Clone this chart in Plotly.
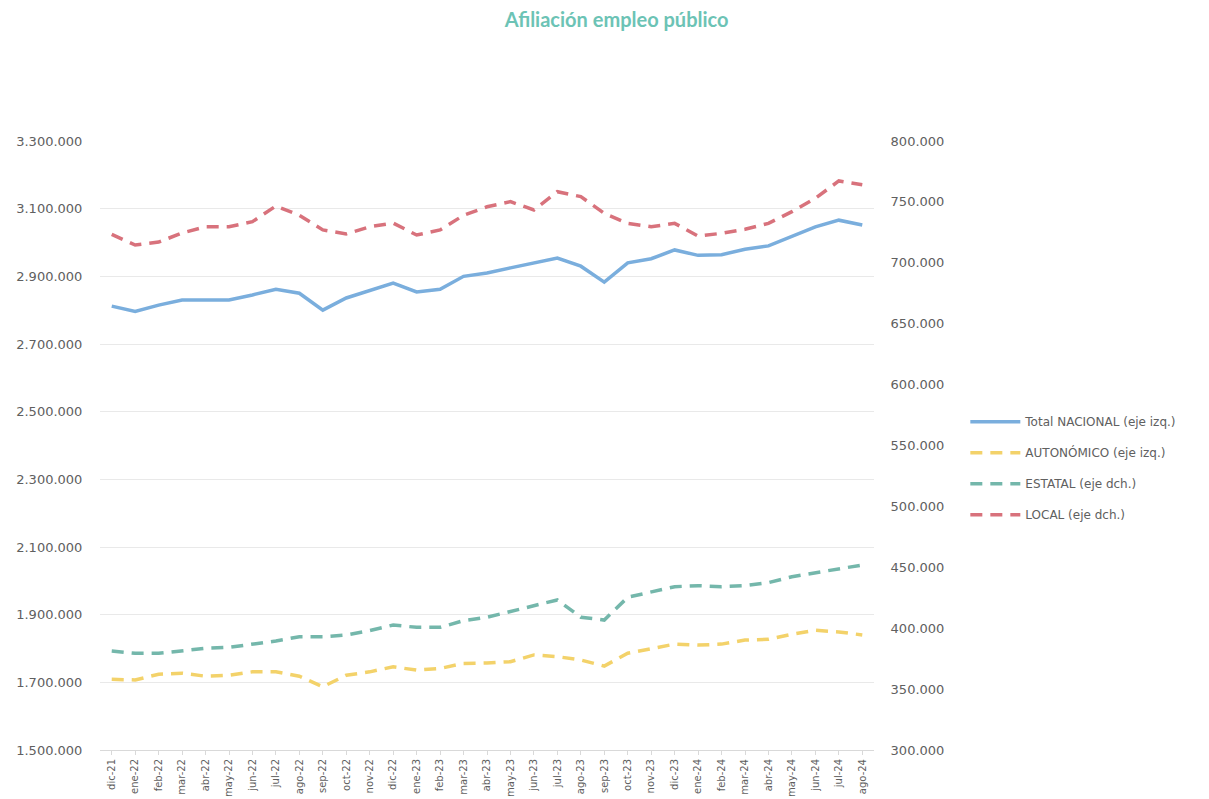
import plotly.graph_objects as go

# Months (dic-21 .. ago-24)
meses = ["dic-21", "ene-22", "feb-22", "mar-22", "abr-22", "may-22", "jun-22", "jul-22",
         "ago-22", "sep-22", "oct-22", "nov-22", "dic-22", "ene-23", "feb-23", "mar-23",
         "abr-23", "may-23", "jun-23", "jul-23", "ago-23", "sep-23", "oct-23", "nov-23",
         "dic-23", "ene-24", "feb-24", "mar-24", "abr-24", "may-24", "jun-24", "jul-24",
         "ago-24"]

# Left axis series
total_nacional = [2812000, 2796000, 2815000, 2830000, 2830000, 2830000, 2845000, 2862000,
                  2850000, 2800000, 2836000, 2857000, 2880000, 2854000, 2862000, 2900000,
                  2910000, 2925000, 2940000, 2954000, 2930000, 2883000, 2940000, 2952000,
                  2978000, 2962000, 2964000, 2980000, 2990000, 3018000, 3046000, 3066000,
                  3052000]
autonomico = [1709000, 1707000, 1724000, 1727000, 1718000, 1721000, 1731000, 1731000,
              1718000, 1687000, 1721000, 1731000, 1746000, 1736000, 1741000, 1756000,
              1757000, 1761000, 1781000, 1776000, 1766000, 1748000, 1786000, 1800000,
              1813000, 1810000, 1813000, 1825000, 1827000, 1842000, 1854000, 1849000,
              1840000]

# Right axis series
estatal = [381300, 379400, 379400, 381300, 383500, 384300, 386800, 389500,
           393000, 393000, 394400, 398000, 402600, 400700, 400700, 406200,
           409000, 413600, 418300, 423200, 409000, 406700, 425400, 430000,
           434100, 434900, 434100, 434900, 437400, 442300, 445600, 448400,
           451900]
local = [723400, 714600, 717000, 724500, 729600, 729600, 733800, 746600,
         739000, 727000, 723700, 729600, 732600, 722800, 727000, 739000,
         746000, 750200, 743400, 758400, 754300, 740600, 732400, 729600,
         732400, 722000, 724200, 727500, 732400, 742000, 753000, 767200,
         764000]

left_ticks = list(range(1500000, 3300001, 200000))
right_ticks = list(range(300000, 800001, 50000))

GRAY = "#606060"
FONT = "DejaVu Sans"
DASH = "12px,8px"

fig = go.Figure()
fig.add_trace(go.Scatter(x=meses, y=total_nacional, name="Total NACIONAL (eje izq.)",
                         mode="lines", line=dict(color="#7aaedd", width=3.5),
                         legendgroup="a"))
fig.add_trace(go.Scatter(x=meses, y=autonomico, name="AUTONÓMICO (eje izq.)",
                         mode="lines", line=dict(color="#f3d26a", width=3.5, dash=DASH),
                         legendgroup="b"))
fig.add_trace(go.Scatter(x=meses, y=estatal, name="ESTATAL (eje dch.)", yaxis="y2",
                         mode="lines", line=dict(color="#74b7ab", width=3.5, dash=DASH),
                         legendgroup="c"))
fig.add_trace(go.Scatter(x=meses, y=local, name="LOCAL (eje dch.)", yaxis="y2",
                         mode="lines", line=dict(color="#d8727c", width=3.5, dash=DASH),
                         legendgroup="d"))

fig.update_layout(
    width=1209, height=799,
    margin=dict(l=100, r=335, t=141, b=49),
    paper_bgcolor="white", plot_bgcolor="white",
    separators=",.",
    hovermode=False,
    title=dict(text="<b>Afiliación empleo público</b>", x=0.51, xanchor="center",
               y=0.975, yanchor="middle",
               font=dict(family="Lato", size=20, color="#6cc3b5")),
    xaxis=dict(type="category", range=[-0.5, len(meses) - 0.5], tickangle=-90,
               showgrid=False, automargin=False,
               tickfont=dict(family=FONT, size=10, color=GRAY),
               showline=True, linecolor="#d9d9d9", linewidth=1,
               ticks="outside", ticklen=4, tickcolor="#d9d9d9"),
    yaxis=dict(range=[1500000, 3300000], tickvals=left_ticks, tickformat=",d",
               showgrid=True, gridcolor="#e9e9e9", gridwidth=1, zeroline=False,
               automargin=False,
               tickfont=dict(family=FONT, size=13, color=GRAY),
               ticks="outside", ticklen=14, tickcolor="rgba(0,0,0,0)"),
    yaxis2=dict(range=[300000, 800000], tickvals=right_ticks, tickformat=",d",
                overlaying="y", side="right", showgrid=False, zeroline=False,
                automargin=False,
                tickfont=dict(family=FONT, size=13, color=GRAY),
                ticks="outside", ticklen=13, tickcolor="rgba(0,0,0,0)"),
    legend=dict(x=1.118, xanchor="left", y=0.563, yanchor="top",
                traceorder="grouped", tracegroupgap=12, itemwidth=50,
                font=dict(family=FONT, size=12, color=GRAY),
                bgcolor="rgba(0,0,0,0)"),
)

fig.write_html("out.html")
